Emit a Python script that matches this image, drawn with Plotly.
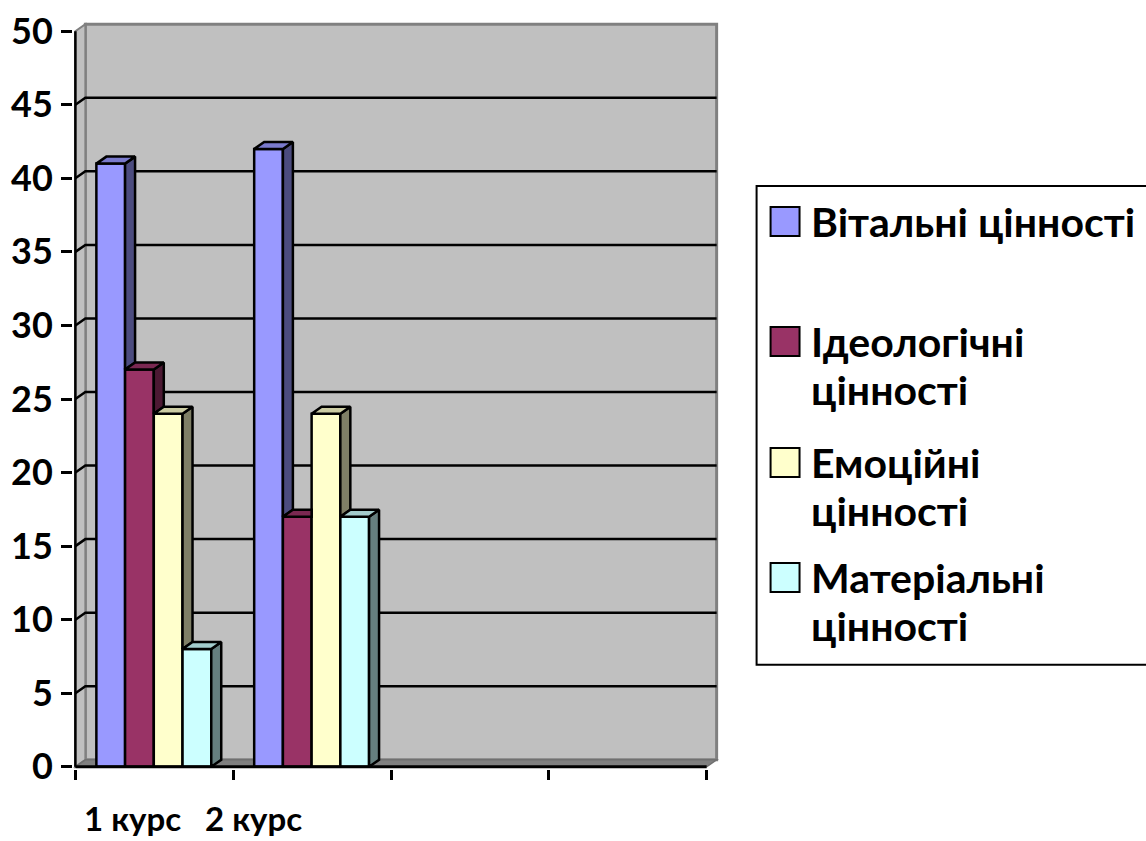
import plotly.graph_objects as go

# ---------------- data ----------------
CATEGORIES = ["1 курс", "2 курс"]
SERIES = ["Вітальні цінності", "Ідеологічні цінності", "Емоційні цінності", "Матеріальні цінності"]
VITAL = [41, 42]
IDEOL = [27, 17]
EMOT = [24, 24]
MATER = [8, 17]
Y_TICKS = [0, 5, 10, 15, 20, 25, 30, 35, 40, 45, 50]
N_SLOTS = 4  # category slots on the axis (two are empty)

VALUES = [VITAL, IDEOL, EMOT, MATER]
COLORS = ["#9999FF", "#993366", "#FFFFCC", "#CCFFFF"]
LEGEND_WRAP = [False, True, True, True]

# ---------------- geometry / style ----------------
W, H = 1146, 841
PXX = 158.0          # px per category slot
PXY = 14.72          # px per value unit
X_ORIGIN_PX = 75     # pixel of front-left corner (x=-0.5)
Y_ORIGIN_PX = 767    # pixel of front floor (y=0)
DX = 10 / PXX        # 3-D depth, x units
DY = 7 / PXY         # 3-D depth, y units
XMIN, XMAX = -0.5, N_SLOTS - 0.5
YMAX = max(Y_TICKS)
PADX, PADY = 0.015, 0.15
GROUP_LEFT = -0.367
BW = 0.182
OUT = 2.5
FONT = "Lato"

xr0, xr1 = XMIN - PADX, XMAX + DX + PADX
yr0, yr1 = -PADY, YMAX + DY + PADY
plot_w = (xr1 - xr0) * PXX
plot_h = (yr1 - yr0) * PXY
ML = X_ORIGIN_PX - PADX * PXX
MB = H - (Y_ORIGIN_PX + PADY * PXY)
MR = W - ML - plot_w
MT = H - MB - plot_h


def px_x(px):
    return (px - ML) / plot_w


def px_y(py):
    return (H - MB - py) / plot_h


def shade(hexcol, f):
    r, g, b = (int(hexcol[i:i + 2], 16) for i in (1, 3, 5))
    return "#%02X%02X%02X" % (int(r * f), int(g * f), int(b * f))


fig = go.Figure()

# front faces
for k, (name, vals, col) in enumerate(zip(SERIES, VALUES, COLORS)):
    fig.add_trace(go.Bar(
        x=list(range(len(CATEGORIES))), y=vals, name=name,
        width=BW, offset=GROUP_LEFT + k * BW,
        marker=dict(color=col, line=dict(color="black", width=OUT)),
        showlegend=False, hoverinfo="y+name"))

# side and top faces (3-D look), clipped where the next bar hides them
for k, (vals, col) in enumerate(zip(VALUES, COLORS)):
    sx, sy, tx, ty = [], [], [], []
    for i, v in enumerate(vals):
        xl = i + GROUP_LEFT + k * BW
        xr = xl + BW
        vn = VALUES[k + 1][i] if k + 1 < len(VALUES) else None
        base = 0 if vn is None else vn
        if v > base:
            sx += [xr, xr + DX, xr + DX, xr, xr, None]
            sy += [base, base + DY, v + DY, v, base, None]
        if vn is not None and vn > v:
            tx += [xl, xr, xr, xl + DX, xl, None]
            ty += [v, v, v + DY, v + DY, v, None]
        else:
            tx += [xl, xr, xr + DX, xl + DX, xl, None]
            ty += [v, v, v + DY, v + DY, v, None]
    if sx:
        fig.add_trace(go.Scatter(x=sx, y=sy, mode="lines", fill="toself",
                                 fillcolor=shade(col, 0.5),
                                 line=dict(color="black", width=OUT),
                                 showlegend=False, hoverinfo="skip"))
    fig.add_trace(go.Scatter(x=tx, y=ty, mode="lines", fill="toself",
                             fillcolor=shade(col, 0.8),
                             line=dict(color="black", width=OUT),
                             showlegend=False, hoverinfo="skip"))

shapes = []
# back wall
shapes.append(dict(type="rect", xref="x", yref="y", layer="below",
                   x0=XMIN + DX, y0=DY, x1=XMAX + DX, y1=YMAX + DY,
                   fillcolor="#C0C0C0", line=dict(color="#808080", width=3)))
# left wall
shapes.append(dict(type="path", xref="x", yref="y", layer="below",
                   path=f"M {XMIN},0 L {XMIN + DX},{DY} L {XMIN + DX},{YMAX + DY} L {XMIN},{YMAX} Z",
                   fillcolor="#C0C0C0", line=dict(color="#808080", width=2)))
# floor
shapes.append(dict(type="path", xref="x", yref="y", layer="below",
                   path=f"M {XMIN},0 L {XMAX},0 L {XMAX + DX},{DY} L {XMIN + DX},{DY} Z",
                   fillcolor="#808080", line=dict(color="#707070", width=1.5)))
# gridlines
for v in Y_TICKS[1:-1]:
    shapes.append(dict(type="path", xref="x", yref="y", layer="below",
                       path=f"M {XMIN},{v} L {XMIN + DX},{v + DY} L {XMAX + DX},{v + DY}",
                       line=dict(color="black", width=OUT)))
# axis lines
shapes.append(dict(type="line", xref="x", yref="y", layer="above",
                   x0=XMIN, y0=0, x1=XMIN, y1=YMAX, line=dict(color="black", width=OUT)))
shapes.append(dict(type="line", xref="x", yref="y", layer="above",
                   x0=XMIN, y0=0, x1=XMAX, y1=0, line=dict(color="black", width=3)))

# legend (drawn manually: large swatches, wrapped labels)
LEG_LEFT, LEG_TOP, LEG_BOTTOM = 757, 186, 665
shapes.append(dict(type="rect", xref="paper", yref="paper",
                   x0=px_x(LEG_LEFT), x1=px_x(W + 20), y0=px_y(LEG_BOTTOM), y1=px_y(LEG_TOP),
                   line=dict(color="black", width=2), fillcolor="white", layer="below"))
SW_TOPS = [207, 327, 448, 563]
SW = 29
LINE_H = 48
annotations = []
for name, col, top, wrap in zip(SERIES, COLORS, SW_TOPS, LEGEND_WRAP):
    shapes.append(dict(type="rect", xref="paper", yref="paper",
                       x0=px_x(771), x1=px_x(771 + SW), y0=px_y(top + SW), y1=px_y(top),
                       fillcolor=col, line=dict(color="black", width=2)))
    lines = name.split(" ") if wrap else [name]
    for j, ln in enumerate(lines):
        annotations.append(dict(xref="paper", yref="paper", x=px_x(809),
                                y=px_y(top + SW / 2 + j * LINE_H),
                                xanchor="left", yanchor="middle", showarrow=False,
                                text=ln, font=dict(family=FONT, size=41, color="black", weight="bold")))

# category labels
LABEL_X = [-0.14, 0.63]
for lx, cat in zip(LABEL_X, CATEGORIES):
    annotations.append(dict(xref="x", yref="y", x=lx, y=0, yshift=-51,
                            xanchor="center", yanchor="middle", showarrow=False,
                            text=cat, font=dict(family=FONT, size=33, color="black", weight="bold")))

fig.update_layout(
    width=W, height=H,
    margin=dict(l=ML, r=MR, t=MT, b=MB, pad=0, autoexpand=False),
    paper_bgcolor="white", plot_bgcolor="white",
    barmode="overlay", showlegend=False,
    shapes=shapes, annotations=annotations,
    xaxis=dict(range=[xr0, xr1], showgrid=False, zeroline=False, showline=False,
               tickmode="array", tickvals=[XMIN + s for s in range(N_SLOTS + 1)],
               ticktext=[""] * (N_SLOTS + 1), ticks="outside", ticklen=10,
               tickwidth=OUT, tickcolor="black", automargin=False, fixedrange=True),
    yaxis=dict(range=[yr0, yr1], showgrid=False, zeroline=False, showline=False,
               tickmode="array", tickvals=Y_TICKS, ticks="outside", ticklen=11,
               tickwidth=OUT, tickcolor="black", ticklabelstandoff=1,
               tickfont=dict(family=FONT, size=36, color="black", weight="bold"),
               automargin=False, fixedrange=True),
)

fig.write_html("out.html", config={"displayModeBar": False},
               post_script="document.body.style.margin='0px';document.body.style.padding='0px';")
